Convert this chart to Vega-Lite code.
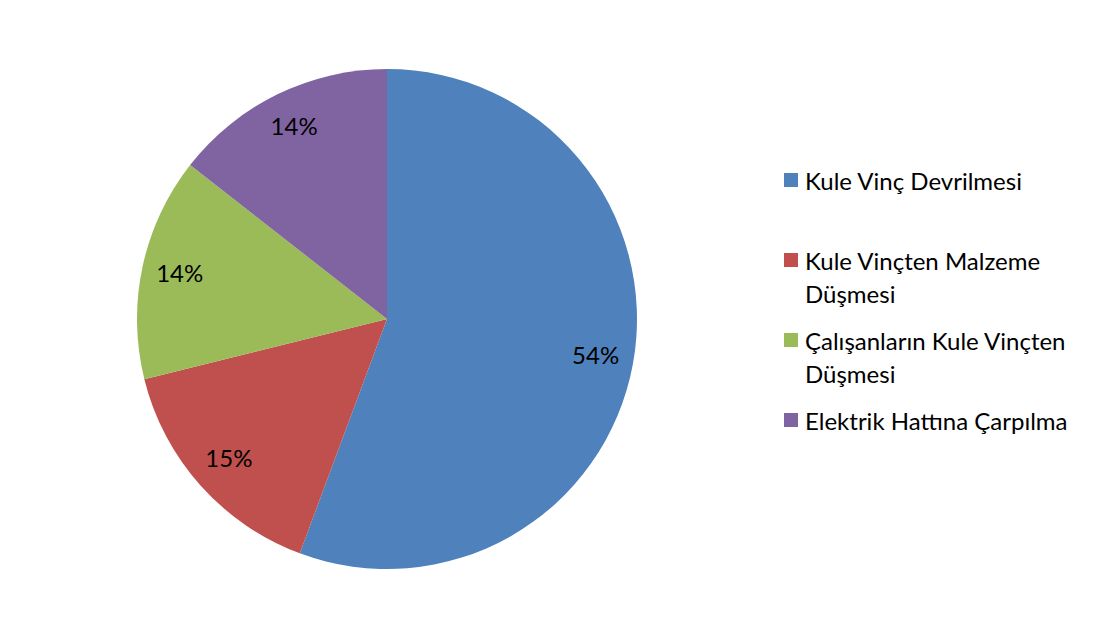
{
  "$schema": "https://vega.github.io/schema/vega-lite/v6.json",
  "width": 500,
  "height": 500,
  "autosize": {"type": "none"},
  "padding": {"left": 137, "top": 69, "right": 473, "bottom": 75},
  "background": "white",
  "config": {"view": {"stroke": null}},
  "data": {
    "values": [
      {"category": "Kule Vinç Devrilmesi", "value": 54, "pct": "54%", "order": 1},
      {"category": "Kule Vinçten Malzeme Düşmesi", "value": 15, "pct": "15%", "order": 2},
      {"category": "Çalışanların Kule Vinçten Düşmesi", "value": 14, "pct": "14%", "order": 3},
      {"category": "Elektrik Hattına Çarpılma", "value": 14, "pct": "14%", "order": 4}
    ]
  },
  "encoding": {
    "theta": {"field": "value", "type": "quantitative", "stack": true},
    "order": {"field": "order", "type": "quantitative"},
    "color": {
      "field": "category",
      "type": "nominal",
      "sort": ["Kule Vinç Devrilmesi", "Kule Vinçten Malzeme Düşmesi", "Çalışanların Kule Vinçten Düşmesi", "Elektrik Hattına Çarpılma"],
      "scale": {
        "domain": ["Kule Vinç Devrilmesi", "Kule Vinçten Malzeme Düşmesi", "Çalışanların Kule Vinçten Düşmesi", "Elektrik Hattına Çarpılma"],
        "range": ["#4F81BD", "#C0504D", "#9BBB59", "#8064A2"]
      },
      "legend": {
        "title": null,
        "orient": "none",
        "legendX": 642,
        "legendY": 99,
        "padding": 0,
        "symbolType": "square",
        "symbolSize": 196,
        "symbolStrokeWidth": 0,
        "symbolOpacity": 1,
        "labelFont": "Lato",
        "labelFontSize": 24,
        "labelColor": "black",
        "labelOffset": 2,
        "labelLimit": 500,
        "labelBaseline": "top",
        "gridAlign": "all",
        "rowPadding": 20,
        "labelExpr": "split(replace(datum.label, ' Düşmesi', '|Düşmesi'), '|')",
        "encode": {"labels": {"update": {"lineHeight": {"value": 33}, "dy": {"value": -9}}}}
      }
    }
  },
  "layer": [
    {"mark": {"type": "arc", "radius": 250}},
    {
      "mark": {"type": "text", "radius": 212, "font": "Lato", "fontSize": 24},
      "encoding": {"text": {"field": "pct"}, "color": {"value": "black"}}
    }
  ]
}
